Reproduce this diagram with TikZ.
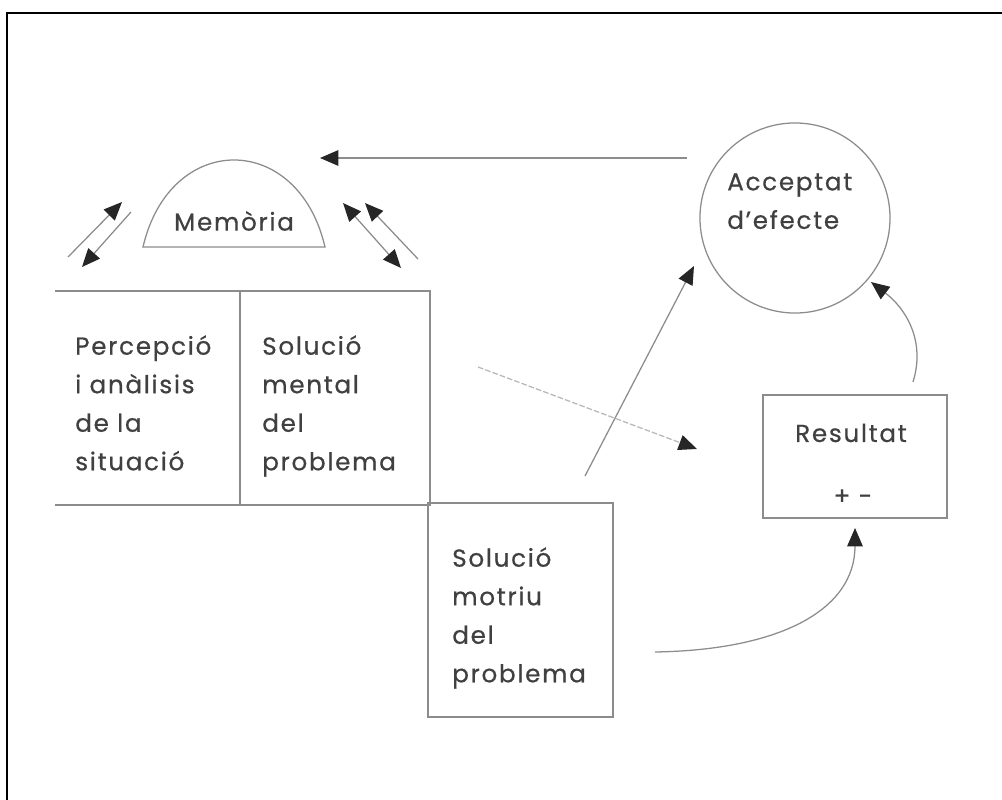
\documentclass[tikz,border=0pt]{standalone}
\usepackage{fontspec}
\setmainfont{Poppins}[LetterSpace=7, FakeBold=0.6]
\usetikzlibrary{arrows.meta}
\definecolor{ln}{gray}{0.55}
\definecolor{lnlight}{gray}{0.72}
\definecolor{tx}{gray}{0.25}
\tikzset{
  tipx/.tip={Triangle[length=13pt,width=11pt,color=black!85]},
  shapeln/.style={draw=ln, line width=0.9pt},
  conn/.style={draw=ln, line width=0.9pt, -tipx},
  dconn/.style={draw=ln, line width=0.9pt, tipx-tipx},
  lbl/.style={text=tx, inner sep=0pt, align=left, anchor=north west,
    font=\fontsize{17.5}{27.4}\selectfont},
}
\begin{document}
\begin{tikzpicture}[x=0.025cm, y=-0.025cm]
\useasboundingbox (0,0) rectangle (1002,800);
% frame (top and left only visible)
\draw[line width=1.8pt, black] (7,800) -- (7,13) -- (1002,13);

% Memoria dome
\draw[shapeln] (143,247) .. controls (170,131) and (298,131) .. (325,247) -- cycle;
\node[lbl, anchor=center] (mem) at (234,221) {Memòria};

% left box (two cells)
\draw[shapeln] (55,291) -- (430,291) -- (430,505) -- (55,505);
\draw[shapeln] (240,291) -- (240,505);
\node[lbl] (perc) at (75,335) {Percepció\\i anàlisis\\de la\\situació};
\node[lbl] (ment) at (262,335) {Solució\\mental\\del\\problema};

% motor solution box
\draw[shapeln] (428,503) rectangle (613,717);
\node[lbl] (motr) at (452,547) {Solució\\motriu\\del\\problema};

% Acceptat circle
\node[draw=ln, line width=0.9pt, circle, minimum size=4.75cm, inner sep=0pt] (acc) at (795,218) {};
\node[lbl] (acct) at (727,173) {Acceptat\\d’efecte};

% Resultat box
\draw[shapeln] (763,395) rectangle (947,518);
\node[lbl, anchor=center] (res) at (851,433) {Resultat};
\node[lbl, anchor=center] (pm) at (853,497) {+ -};

% coordinates for connector ends
\coordinate (tA) at (687,158);
\coordinate (hA) at (320,158);
\coordinate (l1s) at (68,257);
\coordinate (l1e) at (122,202);
\coordinate (l2s) at (131,212);
\coordinate (l2e) at (82,267);
\coordinate (r1s) at (401,268);
\coordinate (r1e) at (343,203);
\coordinate (r2s) at (418,259);
\coordinate (r2e) at (365,203);
\coordinate (mS) at (585,476);
\coordinate (mE) at (694,266);
\coordinate (dS) at (478,367);
\coordinate (dE) at (697,449);
\coordinate (cS) at (913,382);
\coordinate (cE) at (871,282);
\coordinate (bS) at (655,652);
\coordinate (bE) at (855,528);

% connectors
\draw[conn] (tA) -- (hA);
\draw[conn] (l1s) -- (l1e);
\draw[conn] (l2s) -- (l2e);
\draw[dconn] (r1s) -- (r1e);
\draw[conn] (r2s) -- (r2e);
\draw[conn] (mS) -- (mE);
\draw[conn, draw=lnlight, dash pattern=on 4pt off 1.5pt] (dS) -- (dE);
\draw[conn] (cS) .. controls (926,340) and (905,308) .. (cE);
\draw[conn] (bS) .. controls (780,650) and (855,610) .. (bE);
\end{tikzpicture}
\end{document}
